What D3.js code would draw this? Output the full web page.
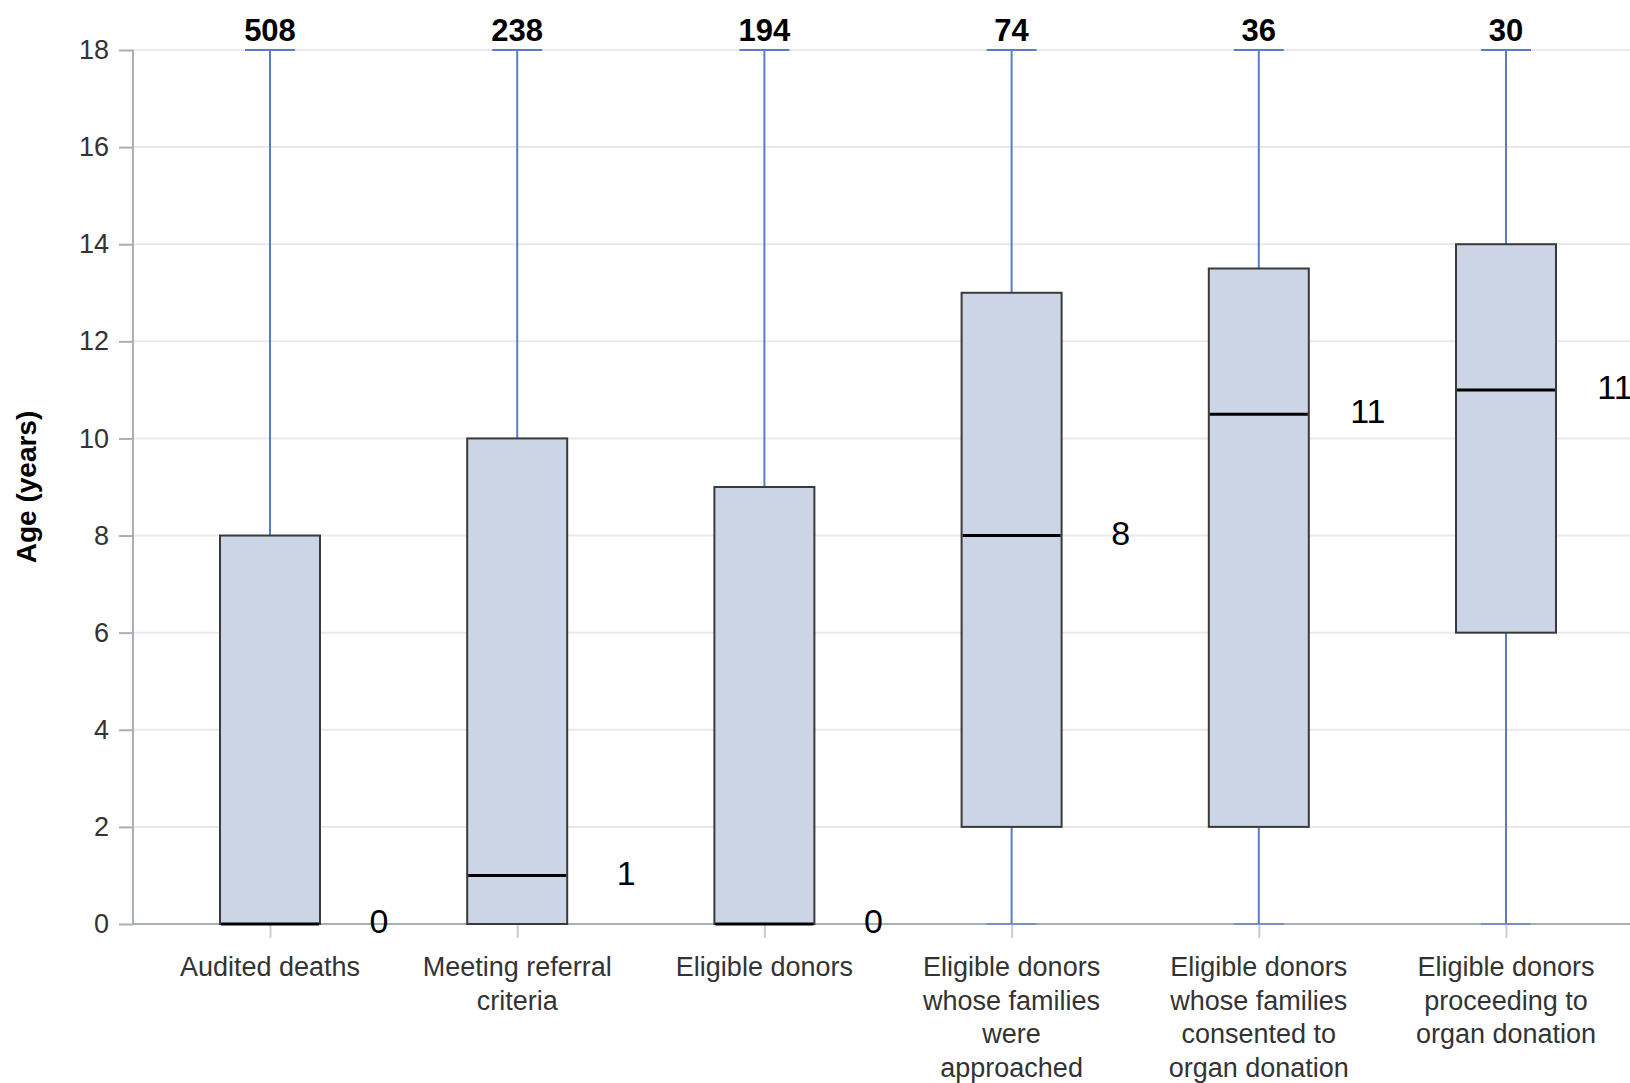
<!DOCTYPE html>
<html><head><meta charset="utf-8">
<script src="https://cdn.jsdelivr.net/npm/d3@7"></script>
<style>
html,body{margin:0;padding:0;background:#fff;}
svg{display:block;font-family:"Liberation Sans",Arial,sans-serif;}
</style></head>
<body>
<svg id="chart" width="1630" height="1083"></svg>
<script>
const categories = [
  ["Audited deaths"],
  ["Meeting referral","criteria"],
  ["Eligible donors"],
  ["Eligible donors","whose families","were","approached"],
  ["Eligible donors","whose families","consented to","organ donation"],
  ["Eligible donors","proceeding to","organ donation"]
];
const counts   = [508, 238, 194, 74, 36, 30];
const mins     = [0, 0, 0, 0, 0, 0];
const q1s      = [0, 0, 0, 2, 2, 6];
const medians  = [0, 1, 0, 8, 10.5, 11];
const q3s      = [8, 10, 9, 13, 13.5, 14];
const maxs     = [18, 18, 18, 18, 18, 18];
const medianLabels = ["0", "1", "0", "8", "11", "11"];
const yTicks   = [0, 2, 4, 6, 8, 10, 12, 14, 16, 18];

const svg = d3.select("#chart");
const W = 1630;
const axisX = 133;
const ids = categories.map((c, i) => i);
const x = d3.scalePoint().domain(ids).range([270, 1506]).padding(0);
const y = d3.scaleLinear().domain([0, 18]).range([924, 50]);
const boxW = 100, capW = 50;

// gridlines
svg.append("g").selectAll("line").data(yTicks).join("line")
  .attr("x1", axisX).attr("x2", W)
  .attr("y1", d => y(d)).attr("y2", d => y(d))
  .attr("stroke", "#e9e9e9").attr("stroke-width", 2);

// y axis
const yAxis = svg.append("g").attr("transform", `translate(${axisX},0)`)
  .call(d3.axisLeft(y).tickValues(yTicks).tickSize(14).tickPadding(10).tickFormat(d3.format("d")));
yAxis.select(".domain").attr("stroke", "#a8aeb4").attr("stroke-width", 2)
  .attr("d", `M0,${y(18)}V${y(0)}`);
yAxis.selectAll(".tick line").attr("stroke", "#a8aeb4").attr("stroke-width", 2);
yAxis.selectAll(".tick text").attr("font-size", 27).attr("fill", "#333")
  .attr("font-family", "Liberation Sans, Arial, sans-serif");

// x axis
const xAxis = svg.append("g").attr("transform", `translate(0,${y(0)})`)
  .call(d3.axisBottom(x).tickSize(14).tickFormat(""));
xAxis.select(".domain").attr("stroke", "#a8aeb4").attr("stroke-width", 2)
  .attr("d", `M${axisX},0H${W}`);
xAxis.selectAll(".tick line").attr("stroke", "#c8ccd0").attr("stroke-width", 2);

// category labels
const catG = svg.append("g");
categories.forEach((lines, i) => {
  const t = catG.append("text").attr("text-anchor", "middle")
    .attr("font-size", 27).attr("fill", "#333");
  lines.forEach((ln, j) => {
    t.append("tspan").attr("x", x(i)).attr("y", 976 + j * 33.7).text(ln);
  });
});

// boxes
const g = svg.append("g");
ids.forEach(i => {
  const cx = x(i);
  const wc = "#5a7cc6";
  // whiskers
  g.append("line").attr("x1", cx).attr("x2", cx).attr("y1", y(q3s[i])).attr("y2", y(maxs[i]))
    .attr("stroke", wc).attr("stroke-width", 2);
  g.append("line").attr("x1", cx).attr("x2", cx).attr("y1", y(q1s[i])).attr("y2", y(mins[i]))
    .attr("stroke", wc).attr("stroke-width", 2);
  g.append("line").attr("x1", cx - capW/2).attr("x2", cx + capW/2).attr("y1", y(maxs[i])).attr("y2", y(maxs[i]))
    .attr("stroke", wc).attr("stroke-width", 2);
  g.append("line").attr("x1", cx - capW/2).attr("x2", cx + capW/2).attr("y1", y(mins[i])).attr("y2", y(mins[i]))
    .attr("stroke", wc).attr("stroke-width", 2).attr("stroke-opacity", 0.6);
  // box
  g.append("rect").attr("x", cx - boxW/2).attr("width", boxW)
    .attr("y", y(q3s[i])).attr("height", y(q1s[i]) - y(q3s[i]))
    .attr("fill", "#cbd5e5").attr("stroke", "#3a3a3a").attr("stroke-width", 2);
  // median
  g.append("line").attr("x1", cx - boxW/2 + 1).attr("x2", cx + boxW/2 - 1)
    .attr("y1", y(medians[i])).attr("y2", y(medians[i]))
    .attr("stroke", "#000").attr("stroke-width", 3);
  // median label
  g.append("text").attr("x", cx + 109).attr("y", y(medians[i]) - 3).attr("dy", "0.36em")
    .attr("text-anchor", "middle")
    .attr("font-size", 34).attr("fill", "#000").text(medianLabels[i]);
  // count label
  g.append("text").attr("x", cx).attr("y", 41).attr("text-anchor", "middle")
    .attr("font-size", 31).attr("font-weight", "bold").attr("fill", "#000").text(counts[i]);
});

// y title
svg.append("text").attr("transform", `translate(36,${(y(0)+y(18))/2}) rotate(-90)`)
  .attr("text-anchor", "middle").attr("font-size", 28).attr("font-weight", "bold")
  .attr("fill", "#000").text("Age (years)");
</script>
</body></html>
